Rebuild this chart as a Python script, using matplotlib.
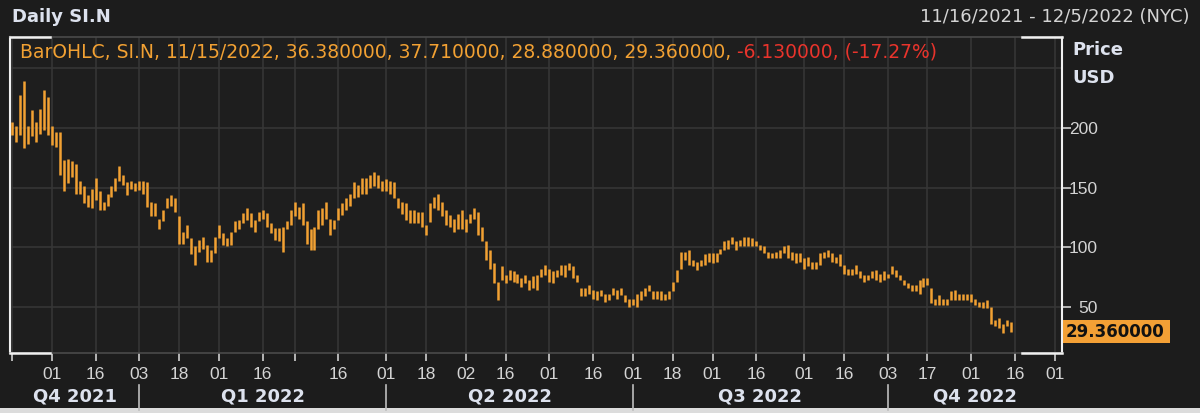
import matplotlib
matplotlib.use("Agg")
import matplotlib.pyplot as plt
import numpy as np
import pandas as pd
from matplotlib.patches import Rectangle
from matplotlib.lines import Line2D
from matplotlib.transforms import blended_transform_factory

plt.rcParams['font.family'] = ['DejaVu Sans']
TICK_FONT = ['Liberation Sans', 'DejaVu Sans']

# daily high / low of SI.N, 11/16/2021 .. 11/15/2022
highs = [205, 202, 228, 239, 202, 215, 205, 216, 232, 226, 202, 197, 197, 173, 174, 172, 170, 156, 151, 144,
         149, 158, 147, 138, 145, 151, 158, 168, 161, 155, 156, 154, 156, 156, 155, 138, 137, 124, 131, 141,
         144, 141, 126, 113, 119, 108, 101, 106, 109, 102, 98, 109, 119, 112, 108, 113, 122, 123, 129, 133,
         129, 123, 130, 131, 129, 120, 116, 116, 117, 122, 131, 138, 134, 137, 122, 115, 117, 131, 133, 138,
         124, 123, 133, 137, 141, 145, 155, 152, 158, 158, 161, 163, 161, 156, 157, 156, 155, 141, 138, 137,
         131, 131, 130, 130, 119, 137, 142, 145, 138, 131, 127, 124, 128, 131, 124, 128, 133, 130, 117, 105,
         98, 87, 71, 84, 77, 81, 80, 78, 74, 77, 73, 76, 77, 82, 85, 82, 80, 81, 85, 85,
         87, 84, 77, 66, 66, 68, 64, 63, 64, 61, 61, 66, 64, 66, 60, 57, 57, 61, 63, 66,
         68, 63, 63, 63, 61, 63, 71, 81, 96, 96, 98, 89, 88, 89, 94, 95, 95, 95, 99, 105,
         106, 109, 105, 106, 109, 109, 108, 105, 102, 101, 96, 95, 96, 98, 101, 102, 96, 95, 95, 91,
         92, 88, 88, 95, 96, 98, 95, 92, 94, 85, 82, 82, 85, 80, 77, 77, 80, 81, 78, 80,
         78, 84, 81, 77, 73, 70, 68, 68, 73, 74, 74, 66, 57, 60, 57, 57, 63, 64, 61, 61,
         61, 61, 57, 54, 54, 56, 50, 39, 41, 36, 39, 37.71]
lows = [194, 188, 194, 183, 187, 193, 188, 195, 198, 194, 186, 184, 161, 147, 154, 159, 145, 145, 137, 134,
        133, 140, 131, 131, 135, 142, 147, 156, 152, 144, 149, 147, 148, 145, 134, 126, 126, 115, 122, 133,
        135, 130, 103, 103, 108, 94, 85, 96, 99, 88, 88, 95, 108, 102, 101, 102, 113, 115, 120, 123,
        117, 113, 122, 124, 117, 112, 106, 105, 96, 115, 119, 126, 124, 119, 103, 98, 98, 115, 119, 124,
        110, 115, 123, 127, 131, 135, 141, 142, 145, 145, 150, 151, 150, 147, 147, 145, 141, 133, 128, 123,
        120, 120, 120, 117, 110, 121, 133, 131, 126, 119, 117, 113, 115, 115, 113, 120, 124, 110, 105, 89,
        82, 70, 56, 73, 70, 73, 71, 70, 67, 70, 64, 66, 64, 75, 77, 71, 70, 75, 77, 75,
        81, 74, 71, 59, 59, 61, 57, 56, 59, 54, 56, 60, 57, 60, 54, 50, 52, 50, 56, 59,
        63, 57, 57, 56, 56, 57, 63, 71, 82, 89, 85, 84, 81, 84, 85, 88, 87, 88, 94, 98,
        99, 103, 98, 101, 101, 101, 101, 101, 98, 95, 91, 91, 91, 91, 95, 91, 89, 87, 88, 82,
        84, 82, 82, 85, 91, 92, 88, 87, 84, 78, 77, 77, 78, 74, 71, 73, 74, 73, 71, 73,
        74, 78, 75, 73, 68, 66, 63, 63, 61, 67, 68, 53, 52, 52, 52, 52, 56, 56, 56, 56,
        56, 54, 52, 50, 49, 49, 36, 34, 32, 28, 34, 28.88]

last_date = "11/15/2022"
last_ohlc = [36.38, 37.71, 28.88, 29.36]
last_change = -6.13
last_change_pct = -17.27

holidays = ['2021-11-25', '2021-12-24', '2022-01-17', '2022-02-21', '2022-04-15',
            '2022-05-30', '2022-06-20', '2022-07-04', '2022-09-05', '2022-11-24']

tick_dates = ['2021-11-16', '2021-12-01', '2021-12-16', '2022-01-03', '2022-01-18', '2022-02-01',
              '2022-02-16', '2022-03-01', '2022-03-16', '2022-04-01', '2022-04-18', '2022-05-02',
              '2022-05-16', '2022-06-01', '2022-06-16', '2022-07-01', '2022-07-18', '2022-08-01',
              '2022-08-16', '2022-09-01', '2022-09-16', '2022-10-03', '2022-10-17', '2022-11-01',
              '2022-11-16', '2022-12-01']
tick_labels = ['', '01', '16', '03', '18', '01', '16', '', '16', '01', '18', '02', '16', '01', '16',
               '01', '18', '01', '16', '01', '16', '03', '17', '01', '16', '01']
quarter_starts = ['2022-01-03', '2022-04-01', '2022-07-01', '2022-10-03']
quarter_labels = ['Q4 2021', 'Q1 2022', 'Q2 2022', 'Q3 2022', 'Q4 2022']

bg = '#1c1c1c'
grid_c = '#363636'
orange = '#f2a133'
txt_c = '#d4d4d4'
head_c = '#dde2ee'

days = pd.bdate_range('2021-11-16', '2022-12-30', freq='C', holidays=holidays)
xs = np.arange(len(highs))
tick_pos = np.searchsorted(days, pd.to_datetime(tick_dates))
q_pos = np.searchsorted(days, pd.to_datetime(quarter_starts))

W, H = 1200, 413
fig = plt.figure(figsize=(12, 4.13), dpi=100, facecolor=bg)
ax = fig.add_axes([10 / W, (H - 353) / H, 1052 / W, 316 / H], facecolor='#1e1e1e')
xmin, xmax = -0.5, 263.8
ymin, ymax = 11.4, 276.3
ax.set_xlim(xmin, xmax)
ax.set_ylim(ymin, ymax)

for t in tick_pos:
    ax.axvline(t, color=grid_c, lw=1.2, zorder=0)
for v in [50, 100, 150, 200, 250]:
    ax.axhline(v, color=grid_c, lw=1.2, zorder=0)

ax.vlines(xs, lows, highs, color=orange, lw=1.8, zorder=3)

# spines + corner brackets
for s in ['left', 'right']:
    ax.spines[s].set_color('#f0f0f0')
    ax.spines[s].set_linewidth(1.5)
for s in ['top', 'bottom']:
    ax.spines[s].set_color('#4a4a4a')
    ax.spines[s].set_linewidth(1.2)
blen = 40 / 1052
for y in [0, 1]:
    for x0, x1 in [(0, blen), (1 - blen, 1)]:
        ax.add_line(Line2D([x0, x1], [y, y], transform=ax.transAxes, color='#f0f0f0',
                           lw=1.8, clip_on=False, zorder=5))

# x axis
ax.set_xticks(tick_pos)
ax.set_xticklabels(tick_labels, family=TICK_FONT)
ax.tick_params(axis='x', direction='out', length=6, width=1.2, colors='#cfcfcf',
               labelsize=12.5, pad=4, labelcolor=txt_c)

# y axis on the right
ax.yaxis.tick_right()
ax.set_yticks([50, 100, 150, 200])
ax.set_yticklabels(['50', '100', '150', '200'], family=TICK_FONT)
ax.tick_params(axis='y', direction='out', length=6.5, width=1.2, colors='#cfcfcf',
               labelsize=12.5, pad=19.5, labelcolor=txt_c)
for lbl in ax.get_yticklabels():
    lbl.set_ha('right')

# quarter row
fx = blended_transform_factory(ax.transData, fig.transFigure)
q_edges = [xmin] + list(q_pos) + [xmax]
for i, q in enumerate(quarter_labels):
    fig.text((q_edges[i] + q_edges[i + 1]) / 2, (H - 397) / H, q, transform=fx,
             ha='center', va='center', fontsize=13, fontweight='bold', color=head_c)
for q in q_pos:
    fig.add_artist(Line2D([q, q], [(H - 410) / H, (H - 385) / H], transform=fx,
                          color='#bdbdbd', lw=1.2))

# header texts
fig.text(12 / W, (H - 17) / H, 'Daily SI.N', ha='left', va='center', fontsize=13,
         fontweight='bold', color=head_c)
fig.text(1190 / W, (H - 17) / H, '11/16/2021 - 12/5/2022 (NYC)', ha='right', va='center',
         fontsize=13, color=txt_c)
fig.text(1072 / W, (H - 50) / H, 'Price', ha='left', va='center', fontsize=13,
         fontweight='bold', color=head_c)
fig.text(1072 / W, (H - 78) / H, 'USD', ha='left', va='center', fontsize=13,
         fontweight='bold', color=head_c)

leg = 'BarOHLC, SI.N, %s, ' % last_date + ', '.join('%.6f' % v for v in last_ohlc) + ', '
t1 = fig.text(20 / W, (H - 52) / H, leg, ha='left', va='center', fontsize=13.5, color=orange)
fig.canvas.draw()
ax.annotate('%.6f, (%.2f%%)' % (last_change, last_change_pct), xy=(1, 0), xycoords=t1,
            va='bottom', ha='left', fontsize=13.5, color='#e8342c')

# last price tag
fy = blended_transform_factory(fig.transFigure, ax.transData)
tag_h = 23 / 316 * (ymax - ymin)
fig.add_artist(Rectangle((1063 / W, last_ohlc[3] - tag_h / 2), 107 / W, tag_h, transform=fy,
                         facecolor='#f3a035', edgecolor='none'))
fig.text(1066 / W, last_ohlc[3], '%.6f' % last_ohlc[3], transform=fy, ha='left', va='center',
         fontsize=12, fontweight='bold', color='#111111')

# light strip along the bottom edge
fig.add_artist(Rectangle((0, 0), 1, 5 / H, transform=fig.transFigure, facecolor='#dcdcdc',
                         edgecolor='none'))

fig.savefig('out.png', dpi=100, facecolor=bg)
